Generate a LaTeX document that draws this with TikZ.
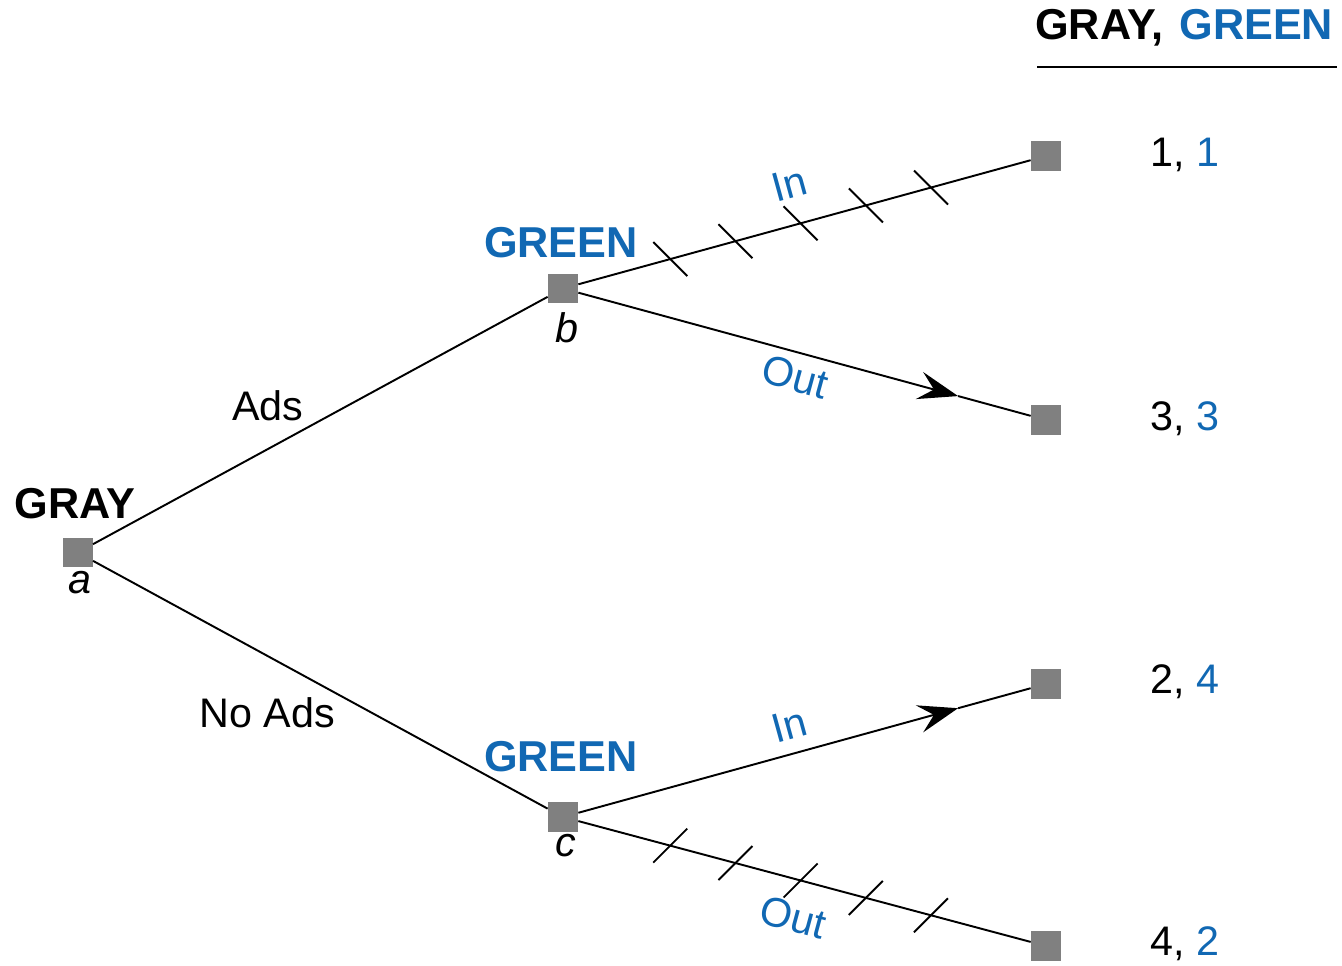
\documentclass[tikz,border=0pt]{standalone}
\usepackage{fontspec}
\setmainfont{Liberation Sans}
\usetikzlibrary{calc,arrows.meta}
\definecolor{gblue}{HTML}{1168B3}
\definecolor{sqgray}{HTML}{808080}
\tikzset{
  sq/.style={fill=sqgray,draw=none,minimum width=0.6cm,minimum height=0.59cm,inner sep=0pt},
  edge/.style={line width=1.1pt,black},
  tick/.style={line width=1.1pt,black},
  lab/.style={font=\fontsize{23.5}{26}\selectfont,inner sep=0pt},
  blab/.style={font=\fontsize{24.6}{27}\selectfont\bfseries,inner sep=0pt},
  ilab/.style={font=\fontsize{23.5}{26}\selectfont\itshape,inner sep=0pt},
  slab/.style={font=\fontsize{23.5}{26}\selectfont,text=gblue,inner sep=0pt},
  arr/.style={-{Stealth[length=0.8cm,width=0.56cm,inset=0.3cm]}}
}
\begin{document}
\begin{tikzpicture}[x=0.02cm,y=-0.02cm]
\useasboundingbox (0,0) rectangle (1342,966);
% squares
\node[sq] (a) at (77.7,552.5) {};
\node[sq] (b) at (563,288.5) {};
\node[sq] (c) at (563,817) {};
\node[sq] (t1) at (1046,156) {};
\node[sq] (t2) at (1046,420) {};
\node[sq] (t3) at (1046,684) {};
\node[sq] (t4) at (1046,946) {};
% main edges
\draw[edge] (a) -- (b);
\draw[edge] (a) -- (c);
\draw[edge] (b) -- (t1);
\draw[edge] (c) -- (t4);
\coordinate (ar1) at ($(b.center)!0.818!(t2.center)$);
\coordinate (ar2) at ($(c.center)!0.818!(t3.center)$);
\draw[edge,arr] (b) -- (ar1);
\draw[edge] (ar1) -- (t2);
\draw[edge,arr] (c) -- (ar2);
\draw[edge] (ar2) -- (t3);
% ticks
\foreach \f [count=\i] in {0.222,0.357,0.492,0.627,0.762}{
  \coordinate (u\i) at ($(b.center)!\f!(t1.center)$);
  \draw[tick] ($(u\i)+(-17,-17)$) -- ($(u\i)+(17,17)$);
  \coordinate (l\i) at ($(c.center)!\f!(t4.center)$);
  \draw[tick] ($(l\i)+(-17,17)$) -- ($(l\i)+(17,-17)$);
}
% labels
\node[blab] (gray) at (75,504) {GRAY};
\node[ilab] (la) at (80,583) {a};
\node[blab,text=gblue] (g1) at (561,243) {GREEN};
\node[ilab] (lb) at (567,328) {b};
\node[blab,text=gblue] (g2) at (561,757) {GREEN};
\node[ilab] (lc) at (566,846) {c};
\node[lab] (ads) at (268,406) {Ads};
\node[lab] (noads) at (267,713) {No Ads};
\node[slab,rotate=15.3] (in1) at (789,184) {In};
\node[slab,rotate=-15.3] (out1) at (795,377) {Out};
\node[slab,rotate=15.4] (in2) at (789,725) {In};
\node[slab,rotate=-15.1] (out2) at (793,917) {Out};
% payoffs
\node[lab,anchor=west] (p1) at (1150,155) {1, \textcolor{gblue}{1}};
\node[lab,anchor=west] (p2) at (1150,419) {3, \textcolor{gblue}{3}};
\node[lab,anchor=west] (p3) at (1150,682) {2, \textcolor{gblue}{4}};
\node[lab,anchor=west] (p4) at (1150,944) {4, \textcolor{gblue}{2}};
% header
\node[blab,anchor=west] (hdr) at (1035,28) {GRAY,\hspace{0.32cm}\textcolor{gblue}{GREEN}};
\coordinate (h1) at (1037,67);
\coordinate (h2) at (1337,67);
\draw[line width=1.1pt] (h1) -- (h2);
\end{tikzpicture}
\end{document}
